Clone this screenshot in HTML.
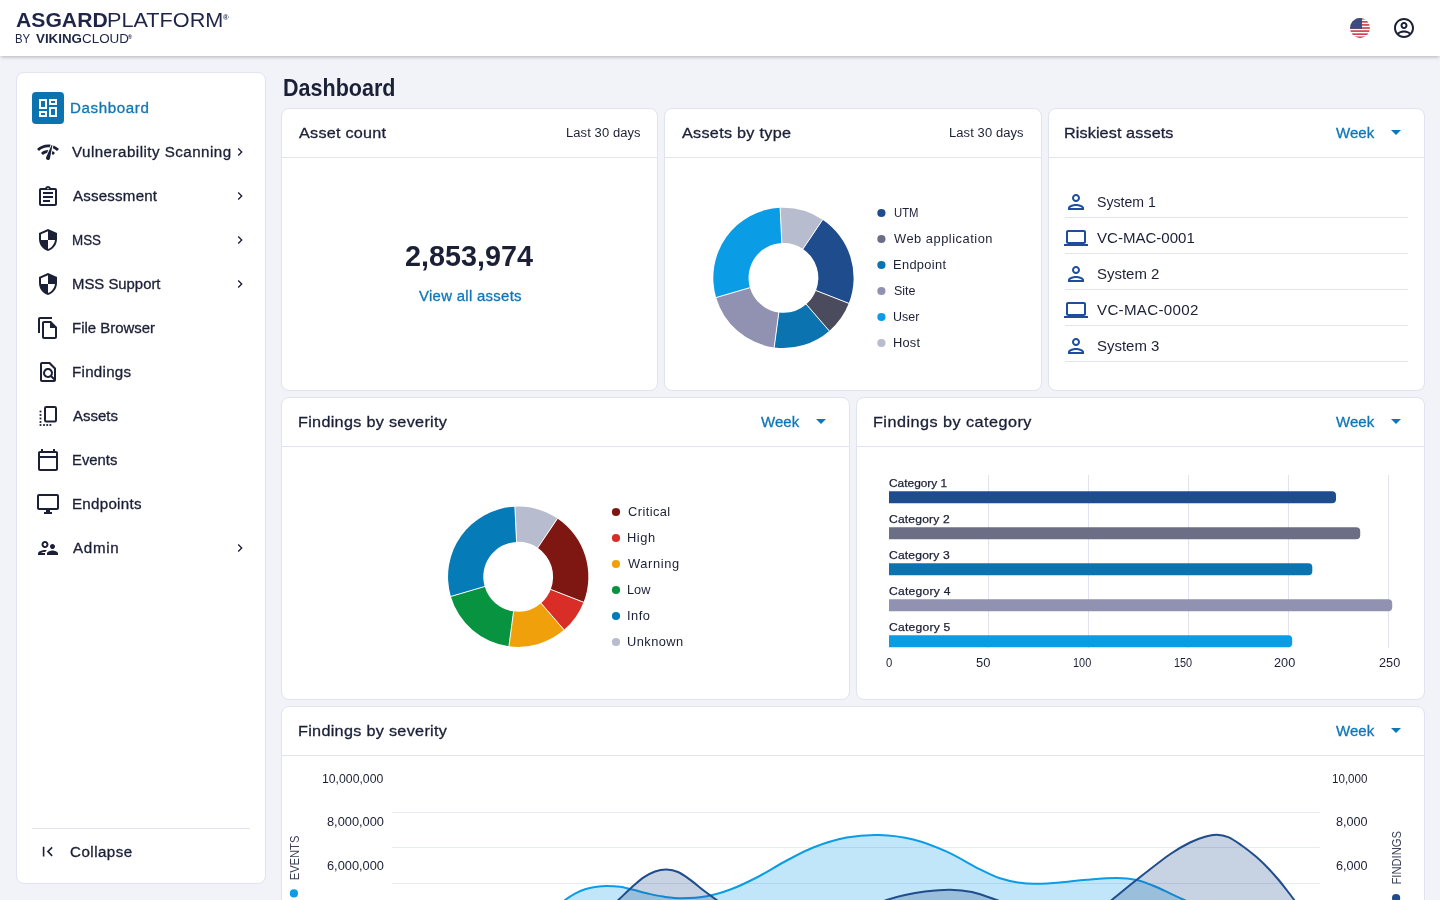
<!DOCTYPE html>
<html lang="en"><head><meta charset="utf-8"><title>Dashboard - Asgard Platform</title>
<style>
*{box-sizing:border-box;margin:0;padding:0}
html,body{width:1440px;height:900px;overflow:hidden}
body{background:#f1f3f8;font-family:"Liberation Sans",sans-serif;color:#1b2037;position:relative}
.ic,.t,.card,.hd,.ln,.abs{position:absolute}
.t{white-space:nowrap;line-height:20px;display:block;transform-origin:0 50%}
header{position:absolute;left:0;top:0;width:1440px;height:56px;background:#fff;box-shadow:0 2px 4px -1px rgba(0,0,0,.2),0 1px 3px rgba(0,0,0,.08)}
.card{background:#fff;border:1px solid #e1e3f0;border-radius:8px}
.hd{left:0;right:0;top:0;height:49px;border-bottom:1px solid #e1e3f0}
.ln{height:1px;background:#e1e3f0}
.sel{background:#0b73b0;border-radius:4px;width:32px;height:32px}
svg{display:block;overflow:visible}
svg text{font-family:"Liberation Sans",sans-serif;fill:#1b2037}

</style></head>
<body>
<nav class="card" style="left:16px;top:72px;width:250px;height:812px"></nav>
<div class="abs sel" style="left:32px;top:92px"></div>
<svg class="ic" style="left:36px;top:96px" width="24" height="24" viewBox="0 0 24 24" fill="#fff"><path d="M19 5v2h-4V5h4M9 5v6H5V5h4m10 8v6h-4v-6h4M9 17v2H5v-2h4M21 3h-8v6h8V3zM11 3H3v10h8V3zm10 8h-8v10h8V11zm-10 4H3v6h8v-6z"/></svg>
<svg class="ic" style="left:36px;top:140px" width="24" height="24" viewBox="0 0 24 24" fill="#1b2037"><path d="M15.9 5c-.17 0-.32.09-.41.23l-.07.15-5.18 11.65c-.16.29-.26.61-.26.96 0 1.11.9 2.01 2.01 2.01.96 0 1.77-.68 1.96-1.59l.01-.03L16.4 5.5c0-.28-.22-.5-.5-.5zM1 9l2 2c2.88-2.88 6.79-4.08 10.53-3.62l1.19-2.68C9.89 3.84 4.74 5.27 1 9zm20 2l2-2c-1.64-1.64-3.55-2.82-5.59-3.57l-.53 2.82c1.5.62 2.9 1.53 4.12 2.75zm-4 4l2-2c-.8-.8-1.7-1.42-2.66-1.89l-.55 2.92c.42.27.83.59 1.21.97zM5 13l2 2c1.13-1.13 2.56-1.79 4.03-2l1.28-2.88c-2.63-.08-5.3.87-7.31 2.88z"/></svg>
<svg class="ic" style="left:36px;top:185px" width="24" height="24" viewBox="0 0 24 24" fill="#1b2037"><path d="M7 15h7v2H7zm0-4h10v2H7zm0-4h10v2H7zm12-4h-4.18C14.4 1.84 13.3 1 12 1c-1.3 0-2.4.84-2.82 2H5c-.14 0-.27.01-.4.04-.39.08-.74.28-1.01.55-.18.18-.33.4-.43.64-.1.23-.16.49-.16.77v14c0 .27.06.54.16.78s.25.45.43.64c.27.27.62.47 1.01.55.13.02.26.03.4.03h14c1.1 0 2-.9 2-2V5c0-1.1-.9-2-2-2zm-7-.25c.41 0 .75.34.75.75s-.34.75-.75.75-.75-.34-.75-.75.34-.75.75-.75zM19 19H5V5h14v14z"/></svg>
<svg class="ic" style="left:36px;top:228px" width="24" height="24" viewBox="0 0 24 24" fill="#1b2037"><path d="M12 1L3 5v6c0 5.55 3.84 10.74 9 12 5.16-1.26 9-6.45 9-12V5l-9-4zm0 10.99h7c-.53 4.12-3.28 7.79-7 8.94V12H5V6.3l7-3.11v8.8z"/></svg>
<svg class="ic" style="left:36px;top:272px" width="24" height="24" viewBox="0 0 24 24" fill="#1b2037"><path d="M12 1L3 5v6c0 5.55 3.84 10.74 9 12 5.16-1.26 9-6.45 9-12V5l-9-4zm0 10.99h7c-.53 4.12-3.28 7.79-7 8.94V12H5V6.3l7-3.11v8.8z"/></svg>
<svg class="ic" style="left:36px;top:316px" width="24" height="24" viewBox="0 0 24 24" fill="#1b2037"><path d="M16 1H4c-1.1 0-2 .9-2 2v14h2V3h12V1zm-1 4H8c-1.1 0-1.99.9-1.99 2L6 21c0 1.1.89 2 1.99 2H19c1.1 0 2-.9 2-2V11l-6-6zM8 21V7h6v5h5v9H8z"/></svg>
<svg class="ic" style="left:36px;top:360px" width="24" height="24" viewBox="0 0 24 24" fill="#1b2037"><path d="M14 2H6c-1.1 0-1.99.9-1.99 2L4 20c0 1.1.89 2 1.99 2H18c1.1 0 2-.9 2-2V8l-6-6zM6 4h7l5 5v8.58l-1.84-1.84c1.28-1.94 1.07-4.57-.64-6.28C14.55 8.49 13.28 8 12 8c-1.28 0-2.55.49-3.53 1.46-1.95 1.95-1.95 5.11 0 7.05.97.97 2.25 1.46 3.53 1.46.96 0 1.92-.28 2.75-.83L17.6 20H6V4zm8.11 11.1c-.56.56-1.31.88-2.11.88s-1.55-.31-2.11-.88c-.56-.56-.88-1.31-.88-2.11s.31-1.55.88-2.11c.56-.57 1.31-.88 2.11-.88s1.55.31 2.11.88c.56.56.88 1.31.88 2.11s-.31 1.55-.88 2.11z"/></svg>
<svg class="ic" style="left:36px;top:404px" width="24" height="24" viewBox="0 0 24 24"><rect x="9" y="3" width="11" height="14.5" rx="1.3" fill="none" stroke="#1b2037" stroke-width="2"/><rect x="3.6" y="6.6" width="1.8" height="1.8" fill="#1b2037"/><rect x="3.6" y="10.1" width="1.8" height="1.8" fill="#1b2037"/><rect x="3.6" y="13.6" width="1.8" height="1.8" fill="#1b2037"/><rect x="3.6" y="17.1" width="1.8" height="1.8" fill="#1b2037"/><rect x="3.6" y="20.1" width="1.8" height="1.8" fill="#1b2037"/><rect x="7.1" y="20.1" width="1.8" height="1.8" fill="#1b2037"/><rect x="10.3" y="20.1" width="1.8" height="1.8" fill="#1b2037"/><rect x="13.5" y="20.1" width="1.8" height="1.8" fill="#1b2037"/></svg>
<svg class="ic" style="left:36px;top:448px" width="24" height="24" viewBox="0 0 24 24" fill="#1b2037"><path d="M20 3h-1V1h-2v2H7V1H5v2H4c-1.1 0-2 .9-2 2v16c0 1.1.9 2 2 2h16c1.1 0 2-.9 2-2V5c0-1.1-.9-2-2-2zm0 18H4V10h16v11zm0-13H4V5h16v3z"/></svg>
<svg class="ic" style="left:36px;top:492px" width="24" height="24" viewBox="0 0 24 24" fill="#1b2037"><path d="M21 2H3c-1.1 0-2 .9-2 2v12c0 1.1.9 2 2 2h7v2H8v2h8v-2h-2v-2h7c1.1 0 2-.9 2-2V4c0-1.1-.9-2-2-2zm0 14H3V4h18v12z"/></svg>
<svg class="ic" style="left:36px;top:536px" width="24" height="24" viewBox="0 0 24 24" fill="#1b2037"><path d="M9 12c1.93 0 3.5-1.57 3.5-3.5S10.93 5 9 5 5.500 6.570 5.500 8.500 7.070 12 9 12zm0-5c.830 0 1.500.670 1.500 1.500S9.830 10 9 10s-1.500-.670-1.500-1.500S8.170 7 9 7zm.050 10H4.770c.990-.500 2.700-1 4.230-1 .110 0 .230.010.340.010.340-.730.930-1.330 1.640-1.810-.730-.130-1.420-.200-1.980-.200-2.340 0-7 1.170-7 3.500V19h7v-1.500c0-.170.020-.340.050-.500zm7.450-2.500c-1.840 0-5.500 1.010-5.500 3V19h11v-1.500c0-1.990-3.660-3-5.500-3zm1.210-1.820c.760-.430 1.290-1.240 1.290-2.180C19 9.120 17.880 8 16.500 8S14 9.120 14 10.500c0 .940.530 1.750 1.290 2.180.360.200.770.320 1.210.320s.850-.120 1.210-.320z"/></svg>
<svg class="ic" style="left:232px;top:144px" width="16" height="16" viewBox="0 0 24 24" fill="#1b2037"><path d="M10 6L8.590 7.410 13.170 12l-4.580 4.590L10 18l6-6z"/></svg>
<svg class="ic" style="left:232px;top:188px" width="16" height="16" viewBox="0 0 24 24" fill="#1b2037"><path d="M10 6L8.590 7.410 13.170 12l-4.580 4.590L10 18l6-6z"/></svg>
<svg class="ic" style="left:232px;top:232px" width="16" height="16" viewBox="0 0 24 24" fill="#1b2037"><path d="M10 6L8.590 7.410 13.170 12l-4.580 4.590L10 18l6-6z"/></svg>
<svg class="ic" style="left:232px;top:276px" width="16" height="16" viewBox="0 0 24 24" fill="#1b2037"><path d="M10 6L8.590 7.410 13.170 12l-4.580 4.590L10 18l6-6z"/></svg>
<svg class="ic" style="left:232px;top:540px" width="16" height="16" viewBox="0 0 24 24" fill="#1b2037"><path d="M10 6L8.590 7.410 13.170 12l-4.580 4.590L10 18l6-6z"/></svg>
<div class="ln" style="left:32px;top:828px;width:218px"></div>
<svg class="ic" style="left:38.2px;top:842.4px" width="19.2" height="19.2" viewBox="0 0 24 24" fill="#1b2037"><path d="M18.410 16.590L13.820 12l4.590-4.590L17 6l-6 6 6 6zM6 6h2v12H6z"/></svg>
<section class="card" style="left:281px;top:108px;width:377px;height:283px"><div class="hd"></div></section>
<section class="card" style="left:664px;top:108px;width:378px;height:283px"><div class="hd"></div></section>
<section class="card" style="left:1048px;top:108px;width:377px;height:283px"><div class="hd"></div></section>
<section class="card" style="left:281px;top:397px;width:569px;height:303px"><div class="hd"></div></section>
<section class="card" style="left:856px;top:397px;width:569px;height:303px"><div class="hd"></div></section>
<section class="card" style="left:281px;top:706px;width:1144px;height:260px"><div class="hd"></div></section>
<svg class="ic" style="left:1384.1px;top:120.2px" width="24" height="24" viewBox="0 0 24 24" fill="#1077b7"><path d="M7 10l5 5 5-5z"/></svg>
<svg class="ic" style="left:809.1px;top:409.2px" width="24" height="24" viewBox="0 0 24 24" fill="#1077b7"><path d="M7 10l5 5 5-5z"/></svg>
<svg class="ic" style="left:1384.1px;top:409.2px" width="24" height="24" viewBox="0 0 24 24" fill="#1077b7"><path d="M7 10l5 5 5-5z"/></svg>
<svg class="ic" style="left:1384.1px;top:718.2px" width="24" height="24" viewBox="0 0 24 24" fill="#1077b7"><path d="M7 10l5 5 5-5z"/></svg>
<div class="ln" style="left:1065px;top:217px;width:343px"></div>
<svg class="ic" style="left:1064px;top:190px" width="24" height="24" viewBox="0 0 24 24" fill="#1f4c9c"><path d="M12 6c1.100 0 2 .900 2 2s-.900 2-2 2-2-.900-2-2 .900-2 2-2m0 10c2.700 0 5.800 1.290 6 2H6c.230-.720 3.310-2 6-2m0-12C9.790 4 8 5.790 8 8s1.790 4 4 4 4-1.790 4-4-1.790-4-4-4zm0 10c-2.670 0-8 1.340-8 4v2h16v-2c0-2.660-5.330-4-8-4z"/></svg>
<div class="ln" style="left:1065px;top:253px;width:343px"></div>
<svg class="ic" style="left:1064px;top:226px" width="24" height="24" viewBox="0 0 24 24" fill="#1f4c9c"><path d="M20 18c1.100 0 2-.900 2-2V6c0-1.100-.900-2-2-2H4c-1.100 0-2 .900-2 2v10c0 1.100.900 2 2 2H0v2h24v-2h-4zM4 6h16v10H4V6z"/></svg>
<div class="ln" style="left:1065px;top:289px;width:343px"></div>
<svg class="ic" style="left:1064px;top:262px" width="24" height="24" viewBox="0 0 24 24" fill="#1f4c9c"><path d="M12 6c1.100 0 2 .900 2 2s-.900 2-2 2-2-.900-2-2 .900-2 2-2m0 10c2.700 0 5.800 1.290 6 2H6c.230-.720 3.310-2 6-2m0-12C9.790 4 8 5.790 8 8s1.790 4 4 4 4-1.790 4-4-1.790-4-4-4zm0 10c-2.670 0-8 1.340-8 4v2h16v-2c0-2.660-5.330-4-8-4z"/></svg>
<div class="ln" style="left:1065px;top:325px;width:343px"></div>
<svg class="ic" style="left:1064px;top:298px" width="24" height="24" viewBox="0 0 24 24" fill="#1f4c9c"><path d="M20 18c1.100 0 2-.900 2-2V6c0-1.100-.900-2-2-2H4c-1.100 0-2 .900-2 2v10c0 1.100.900 2 2 2H0v2h24v-2h-4zM4 6h16v10H4V6z"/></svg>
<div class="ln" style="left:1065px;top:361px;width:343px"></div>
<svg class="ic" style="left:1064px;top:334px" width="24" height="24" viewBox="0 0 24 24" fill="#1f4c9c"><path d="M12 6c1.100 0 2 .900 2 2s-.900 2-2 2-2-.900-2-2 .900-2 2-2m0 10c2.700 0 5.800 1.290 6 2H6c.230-.720 3.310-2 6-2m0-12C9.790 4 8 5.790 8 8s1.790 4 4 4 4-1.790 4-4-1.790-4-4-4zm0 10c-2.670 0-8 1.340-8 4v2h16v-2c0-2.660-5.330-4-8-4z"/></svg>
<svg class="abs" style="left:0;top:0" width="1440" height="900" viewBox="0 0 1440 900">
<path d="M822.68 219.69A70.15 70.15 0 0 1 848.81 303.33L815.97 290.53A34.9 34.9 0 0 0 802.97 248.92Z" fill="#1f4c8c"/><path d="M848.81 303.33A70.15 70.15 0 0 1 829.29 330.95L806.25 304.27A34.9 34.9 0 0 0 815.97 290.53Z" fill="#4a4c5e"/><path d="M829.29 330.95A70.15 70.15 0 0 1 774.17 347.38L778.83 312.44A34.9 34.9 0 0 0 806.25 304.27Z" fill="#0b73b0"/><path d="M774.17 347.38A70.15 70.15 0 0 1 716.12 297.54L749.95 287.65A34.9 34.9 0 0 0 778.83 312.44Z" fill="#9192b2"/><path d="M716.12 297.54A70.15 70.15 0 0 1 780.15 207.78L781.81 242.99A34.9 34.9 0 0 0 749.95 287.65Z" fill="#0a9de6"/><path d="M780.15 207.78A70.15 70.15 0 0 1 822.68 219.69L802.97 248.92A34.9 34.9 0 0 0 781.81 242.99Z" fill="#b8bccf"/><path d="M802.69 249.33L822.96 219.28" stroke="#fff" stroke-width="1"/><path d="M815.50 290.35L849.27 303.51" stroke="#fff" stroke-width="1"/><path d="M805.93 303.89L829.61 331.33" stroke="#fff" stroke-width="1"/><path d="M778.90 311.95L774.11 347.88" stroke="#fff" stroke-width="1"/><path d="M750.43 287.50L715.64 297.68" stroke="#fff" stroke-width="1"/><path d="M781.83 243.49L780.12 207.28" stroke="#fff" stroke-width="1"/>
<path d="M557.43 518.59A70.15 70.15 0 0 1 583.56 602.23L550.72 589.43A34.9 34.9 0 0 0 537.72 547.82Z" fill="#7e1712"/><path d="M583.56 602.23A70.15 70.15 0 0 1 564.04 629.85L541.00 603.17A34.9 34.9 0 0 0 550.72 589.43Z" fill="#d92d27"/><path d="M564.04 629.85A70.15 70.15 0 0 1 508.92 646.28L513.58 611.34A34.9 34.9 0 0 0 541.00 603.17Z" fill="#f0a00a"/><path d="M508.92 646.28A70.15 70.15 0 0 1 450.87 596.44L484.70 586.55A34.9 34.9 0 0 0 513.58 611.34Z" fill="#07933f"/><path d="M450.87 596.44A70.15 70.15 0 0 1 514.90 506.68L516.56 541.89A34.9 34.9 0 0 0 484.70 586.55Z" fill="#057bb8"/><path d="M514.90 506.68A70.15 70.15 0 0 1 557.43 518.59L537.72 547.82A34.9 34.9 0 0 0 516.56 541.89Z" fill="#b8bccf"/><path d="M537.44 548.23L557.71 518.18" stroke="#fff" stroke-width="1"/><path d="M550.25 589.25L584.02 602.41" stroke="#fff" stroke-width="1"/><path d="M540.68 602.79L564.36 630.23" stroke="#fff" stroke-width="1"/><path d="M513.65 610.85L508.86 646.78" stroke="#fff" stroke-width="1"/><path d="M485.18 586.40L450.39 596.58" stroke="#fff" stroke-width="1"/><path d="M516.58 542.39L514.87 506.18" stroke="#fff" stroke-width="1"/>
<circle cx="881.4" cy="213" r="4.1" fill="#1f4c8c"/>
<circle cx="881.4" cy="239" r="4.1" fill="#6b6e84"/>
<circle cx="881.4" cy="265" r="4.1" fill="#0b73b0"/>
<circle cx="881.4" cy="291" r="4.1" fill="#9192b2"/>
<circle cx="881.4" cy="317" r="4.1" fill="#0a9de6"/>
<circle cx="881.4" cy="343" r="4.1" fill="#b8bccf"/>
<circle cx="616" cy="512" r="4.1" fill="#7e1712"/>
<circle cx="616" cy="538" r="4.1" fill="#d92d27"/>
<circle cx="616" cy="564" r="4.1" fill="#f0a00a"/>
<circle cx="616" cy="590" r="4.1" fill="#07933f"/>
<circle cx="616" cy="616" r="4.1" fill="#057bb8"/>
<circle cx="616" cy="642" r="4.1" fill="#b8bccf"/>
<rect x="988" y="475" width="1" height="173" fill="#e1e3f0"/>
<rect x="1088" y="475" width="1" height="173" fill="#e1e3f0"/>
<rect x="1188" y="475" width="1" height="173" fill="#e1e3f0"/>
<rect x="1288" y="475" width="1" height="173" fill="#e1e3f0"/>
<rect x="1388" y="475" width="1" height="173" fill="#e1e3f0"/>
<path d="M889 491.2H1332a4 4 0 0 1 4 4v4a4 4 0 0 1 -4 4H889z" fill="#1f4c8c"/>
<path d="M889 527.2H1356.2a4 4 0 0 1 4 4v4a4 4 0 0 1 -4 4H889z" fill="#6b6e84"/>
<path d="M889 563.2H1308.3a4 4 0 0 1 4 4v4a4 4 0 0 1 -4 4H889z" fill="#0b73b0"/>
<path d="M889 599.2H1388.2a4 4 0 0 1 4 4v4a4 4 0 0 1 -4 4H889z" fill="#9192b2"/>
<path d="M889 635.2H1288.2a4 4 0 0 1 4 4v4a4 4 0 0 1 -4 4H889z" fill="#0a9de6"/>
<rect x="392" y="812" width="928" height="1" fill="#e7e9f3"/>
<rect x="392" y="847" width="928" height="1" fill="#e7e9f3"/>
<rect x="392" y="883" width="928" height="1" fill="#e7e9f3"/>
<clipPath id="cp"><rect x="392" y="760" width="928" height="140"/></clipPath>
<g clip-path="url(#cp)"><path d="M550.0 911.0C552.5 909.2 560.8 902.9 565.0 900.0C569.2 897.1 571.7 895.4 575.0 893.6C578.3 891.8 581.7 890.4 585.0 889.3C588.3 888.2 591.4 887.5 595.0 887.0C598.6 886.5 602.5 886.0 606.7 886.0C610.9 886.0 615.6 886.2 620.0 886.8C624.4 887.4 628.8 888.7 633.3 889.8C637.8 890.9 641.7 892.2 646.7 893.3C651.7 894.4 657.5 895.8 663.3 896.6C669.1 897.4 674.5 898.3 681.7 898.3C688.9 898.2 698.5 897.8 706.7 896.3C714.9 894.8 722.7 892.4 731.0 889.3C739.3 886.2 747.7 882.1 756.7 877.5C765.7 872.9 775.6 866.5 785.0 861.5C794.4 856.5 803.0 851.5 813.3 847.5C823.6 843.5 835.8 839.7 846.7 837.6C857.7 835.5 867.9 834.7 879.0 835.0C890.1 835.3 902.0 836.7 913.3 839.5C924.6 842.3 935.6 846.7 946.7 851.7C957.8 856.7 971.1 864.9 980.0 869.3C988.9 873.7 993.3 876.0 1000.0 878.3C1006.7 880.5 1013.9 881.9 1020.0 882.8C1026.1 883.7 1030.0 883.8 1036.7 883.7C1043.4 883.6 1051.7 883.1 1060.0 882.4C1068.3 881.7 1077.2 880.4 1086.7 879.7C1096.2 879.0 1108.3 878.0 1116.7 878.0C1125.1 878.0 1130.9 878.7 1137.0 880.0C1143.1 881.3 1147.8 883.6 1153.3 885.8C1158.8 888.0 1164.8 890.9 1170.0 893.3C1175.2 895.7 1179.7 897.8 1184.2 900.0C1188.7 902.2 1194.9 905.4 1197.0 906.5L1197 960L550 960Z" fill="#0a9de6" fill-opacity=".25"/><path d="M550.0 911.0C552.5 909.2 560.8 902.9 565.0 900.0C569.2 897.1 571.7 895.4 575.0 893.6C578.3 891.8 581.7 890.4 585.0 889.3C588.3 888.2 591.4 887.5 595.0 887.0C598.6 886.5 602.5 886.0 606.7 886.0C610.9 886.0 615.6 886.2 620.0 886.8C624.4 887.4 628.8 888.7 633.3 889.8C637.8 890.9 641.7 892.2 646.7 893.3C651.7 894.4 657.5 895.8 663.3 896.6C669.1 897.4 674.5 898.3 681.7 898.3C688.9 898.2 698.5 897.8 706.7 896.3C714.9 894.8 722.7 892.4 731.0 889.3C739.3 886.2 747.7 882.1 756.7 877.5C765.7 872.9 775.6 866.5 785.0 861.5C794.4 856.5 803.0 851.5 813.3 847.5C823.6 843.5 835.8 839.7 846.7 837.6C857.7 835.5 867.9 834.7 879.0 835.0C890.1 835.3 902.0 836.7 913.3 839.5C924.6 842.3 935.6 846.7 946.7 851.7C957.8 856.7 971.1 864.9 980.0 869.3C988.9 873.7 993.3 876.0 1000.0 878.3C1006.7 880.5 1013.9 881.9 1020.0 882.8C1026.1 883.7 1030.0 883.8 1036.7 883.7C1043.4 883.6 1051.7 883.1 1060.0 882.4C1068.3 881.7 1077.2 880.4 1086.7 879.7C1096.2 879.0 1108.3 878.0 1116.7 878.0C1125.1 878.0 1130.9 878.7 1137.0 880.0C1143.1 881.3 1147.8 883.6 1153.3 885.8C1158.8 888.0 1164.8 890.9 1170.0 893.3C1175.2 895.7 1179.7 897.8 1184.2 900.0C1188.7 902.2 1194.9 905.4 1197.0 906.5" fill="none" stroke="#0a9de6" stroke-width="2"/>
<path d="M604.0 913.0C606.4 910.8 613.7 904.2 618.3 900.0C622.9 895.8 627.3 891.2 631.5 887.5C635.7 883.8 639.4 880.3 643.3 877.6C647.2 874.9 651.1 872.9 655.0 871.5C658.9 870.1 662.9 869.4 666.7 869.5C670.5 869.6 674.1 870.3 678.0 872.0C681.9 873.7 685.8 876.6 690.0 879.6C694.2 882.6 698.8 886.9 703.3 890.3C707.8 893.7 712.2 896.9 716.7 900.0C721.2 903.1 727.8 907.5 730.0 909.0L730 960L604 960Z" fill="#1f4c8c" fill-opacity=".25"/><path d="M604.0 913.0C606.4 910.8 613.7 904.2 618.3 900.0C622.9 895.8 627.3 891.2 631.5 887.5C635.7 883.8 639.4 880.3 643.3 877.6C647.2 874.9 651.1 872.9 655.0 871.5C658.9 870.1 662.9 869.4 666.7 869.5C670.5 869.6 674.1 870.3 678.0 872.0C681.9 873.7 685.8 876.6 690.0 879.6C694.2 882.6 698.8 886.9 703.3 890.3C707.8 893.7 712.2 896.9 716.7 900.0C721.2 903.1 727.8 907.5 730.0 909.0" fill="none" stroke="#1f4c8c" stroke-width="2"/>
<path d="M870.0 906.5C872.8 905.4 880.9 901.9 886.7 900.0C892.5 898.1 898.6 896.4 905.0 895.0C911.4 893.6 917.5 892.5 925.0 891.6C932.5 890.7 942.2 889.6 950.0 889.7C957.8 889.8 964.2 890.3 972.0 892.0C979.8 893.7 990.4 897.8 996.7 900.0C1003.0 902.2 1007.8 904.6 1010.0 905.5L1010 960L870 960Z" fill="#1f4c8c" fill-opacity=".25"/><path d="M870.0 906.5C872.8 905.4 880.9 901.9 886.7 900.0C892.5 898.1 898.6 896.4 905.0 895.0C911.4 893.6 917.5 892.5 925.0 891.6C932.5 890.7 942.2 889.6 950.0 889.7C957.8 889.8 964.2 890.3 972.0 892.0C979.8 893.7 990.4 897.8 996.7 900.0C1003.0 902.2 1007.8 904.6 1010.0 905.5" fill="none" stroke="#1f4c8c" stroke-width="2"/>
<path d="M1100.0 909.0C1102.0 907.5 1105.6 904.9 1111.7 900.0C1117.8 895.1 1127.0 887.3 1136.7 879.7C1146.4 872.1 1161.1 860.4 1170.0 854.2C1178.9 848.0 1184.2 845.4 1190.0 842.5C1195.8 839.6 1200.5 838.1 1205.0 836.8C1209.5 835.5 1212.8 834.7 1216.7 834.8C1220.6 834.9 1224.1 835.4 1228.3 837.2C1232.5 839.0 1237.2 842.4 1241.7 845.5C1246.2 848.6 1250.8 852.3 1255.0 855.8C1259.2 859.3 1262.8 862.8 1266.7 866.7C1270.6 870.7 1275.0 875.6 1278.3 879.5C1281.6 883.4 1284.0 886.6 1286.7 890.0C1289.4 893.4 1292.0 897.0 1294.2 900.0C1296.4 903.0 1299.0 906.7 1300.0 908.0L1300 960L1100 960Z" fill="#1f4c8c" fill-opacity=".25"/><path d="M1100.0 909.0C1102.0 907.5 1105.6 904.9 1111.7 900.0C1117.8 895.1 1127.0 887.3 1136.7 879.7C1146.4 872.1 1161.1 860.4 1170.0 854.2C1178.9 848.0 1184.2 845.4 1190.0 842.5C1195.8 839.6 1200.5 838.1 1205.0 836.8C1209.5 835.5 1212.8 834.7 1216.7 834.8C1220.6 834.9 1224.1 835.4 1228.3 837.2C1232.5 839.0 1237.2 842.4 1241.7 845.5C1246.2 848.6 1250.8 852.3 1255.0 855.8C1259.2 859.3 1262.8 862.8 1266.7 866.7C1270.6 870.7 1275.0 875.6 1278.3 879.5C1281.6 883.4 1284.0 886.6 1286.7 890.0C1289.4 893.4 1292.0 897.0 1294.2 900.0C1296.4 903.0 1299.0 906.7 1300.0 908.0" fill="none" stroke="#1f4c8c" stroke-width="2"/>
</g>
<text transform="translate(299.2 880.3) rotate(-90)" font-size="12" textLength="44.7" lengthAdjust="spacingAndGlyphs" style="fill:#3d4259">EVENTS</text>
<circle cx="293.9" cy="893.4" r="4.1" fill="#0a9de6"/>
<text transform="translate(1401.1 884.6) rotate(-90)" font-size="12" textLength="53.7" lengthAdjust="spacingAndGlyphs" style="fill:#3d4259">FINDINGS</text>
<circle cx="1396.1" cy="898" r="4.1" fill="#1f4c8c"/>
</svg>
<header></header>
<svg class="abs" style="left:1350px;top:18px" width="20" height="20" viewBox="0 0 20 20"><clipPath id="fc"><circle cx="10" cy="10" r="10"/></clipPath><g clip-path="url(#fc)"><rect width="20" height="20" fill="#fff"/><rect x="0" y="0.000" width="20" height="1.538" fill="#c8323f"/><rect x="0" y="3.077" width="20" height="1.538" fill="#c8323f"/><rect x="0" y="6.154" width="20" height="1.538" fill="#c8323f"/><rect x="0" y="9.231" width="20" height="1.538" fill="#c8323f"/><rect x="0" y="12.308" width="20" height="1.538" fill="#c8323f"/><rect x="0" y="15.385" width="20" height="1.538" fill="#c8323f"/><rect x="0" y="18.462" width="20" height="1.538" fill="#c8323f"/><rect width="12" height="10.8" fill="#24366f"/><rect width="12" height="10.8" fill="url(#st)"/></g><pattern id="st" width="1.5" height="1.5" patternUnits="userSpaceOnUse"><circle cx=".75" cy=".75" r=".36" fill="#fff" fill-opacity=".8"/></pattern></svg>
<svg class="ic" style="left:1392px;top:16px" width="24" height="24" viewBox="0 0 24 24" fill="#1b2037"><path d="M12 2C6.480 2 2 6.480 2 12s4.480 10 10 10 10-4.480 10-10S17.520 2 12 2zM7.070 18.280c.430-.900 3.050-1.780 4.930-1.780s4.510.880 4.930 1.780C15.570 19.360 13.860 20 12 20s-3.570-.640-4.930-1.720zm11.290-1.450c-1.430-1.740-4.900-2.330-6.360-2.330s-4.930.590-6.360 2.330C4.620 15.490 4 13.820 4 12c0-4.410 3.590-8 8-8s8 3.590 8 8c0 1.820-.620 3.490-1.640 4.830zM12 6c-1.940 0-3.500 1.560-3.500 3.500S10.060 13 12 13s3.500-1.560 3.500-3.500S13.940 6 12 6zm0 5c-.830 0-1.500-.670-1.500-1.500S11.170 8 12 8s1.500.670 1.500 1.500S12.830 11 12 11z"/></svg>
<div class="g brand">
<span class="t" style="left:15.90px;top:10px;font-size:20.5px;color:#1e2548;font-weight:700;transform:scaleX(1.0321)">ASGARD</span>
<span class="t" style="left:107.45px;top:10px;font-size:20.5px;color:#1e2548;transform:scaleX(1.0571)">PLATFORM</span>
<span class="t" style="left:223.40px;top:8px;font-size:7px;color:#1e2548;font-weight:700;transform:scaleX(1.0800)">®</span>
<span class="t" style="left:15.40px;top:29px;font-size:13.3px;color:#1e2548;transform:scaleX(0.8563)">BY</span>
<span class="t" style="left:35.65px;top:29px;font-size:13.3px;color:#1e2548;font-weight:700;transform:scaleX(1.0030)">VIKING</span>
<span class="t" style="left:81.65px;top:29px;font-size:13.3px;color:#1e2548;transform:scaleX(1.0087)">CLOUD</span>
<span class="t" style="left:127.90px;top:27px;font-size:5px;color:#1e2548;font-weight:700;transform:scaleX(1.0800)">®</span>
</div>
<div class="g menu">
<span class="t" style="left:69.70px;top:98px;font-size:14px;color:#1077b7;letter-spacing:0.569px;transform:scaleX(1.0800);-webkit-text-stroke:0.3px #1077b7">Dashboard</span>
<span class="t" style="left:72.45px;top:142px;font-size:14px;color:#1b2037;letter-spacing:0.445px;transform:scaleX(1.0800);-webkit-text-stroke:0.3px #1b2037">Vulnerability Scanning</span>
<span class="t" style="left:72.70px;top:186px;font-size:14px;color:#1b2037;letter-spacing:0.175px;transform:scaleX(1.0800);-webkit-text-stroke:0.3px #1b2037">Assessment</span>
<span class="t" style="left:72.05px;top:230px;font-size:14px;color:#1b2037;transform:scaleX(0.9557);-webkit-text-stroke:0.3px #1b2037">MSS</span>
<span class="t" style="left:72.05px;top:274px;font-size:14px;color:#1b2037;transform:scaleX(1.0629);-webkit-text-stroke:0.3px #1b2037">MSS Support</span>
<span class="t" style="left:72.05px;top:318px;font-size:14px;color:#1b2037;transform:scaleX(1.0675);-webkit-text-stroke:0.3px #1b2037">File Browser</span>
<span class="t" style="left:72.05px;top:362px;font-size:14px;color:#1b2037;letter-spacing:0.251px;transform:scaleX(1.0800);-webkit-text-stroke:0.3px #1b2037">Findings</span>
<span class="t" style="left:72.50px;top:406px;font-size:14px;color:#1b2037;transform:scaleX(1.0722);-webkit-text-stroke:0.3px #1b2037">Assets</span>
<span class="t" style="left:72.00px;top:450px;font-size:14px;color:#1b2037;transform:scaleX(1.0581);-webkit-text-stroke:0.3px #1b2037">Events</span>
<span class="t" style="left:72.05px;top:494px;font-size:14px;color:#1b2037;letter-spacing:0.259px;transform:scaleX(1.0800);-webkit-text-stroke:0.3px #1b2037">Endpoints</span>
<span class="t" style="left:72.50px;top:538px;font-size:14px;color:#1b2037;letter-spacing:0.645px;transform:scaleX(1.0800);-webkit-text-stroke:0.3px #1b2037">Admin</span>
<span class="t" style="left:69.90px;top:842px;font-size:14px;color:#1b2037;letter-spacing:0.444px;transform:scaleX(1.0800);-webkit-text-stroke:0.3px #1b2037">Collapse</span>
</div>
<main class="g content">
<span class="t" style="left:282.55px;top:78px;font-size:23.2px;color:#1b2037;font-weight:700;transform:scaleX(0.9284)">Dashboard</span>
<span class="t" style="left:298.60px;top:123px;font-size:15px;color:#1b2037;letter-spacing:0.226px;transform:scaleX(1.0800);-webkit-text-stroke:0.3px #1b2037">Asset count</span>
<span class="t" style="left:681.90px;top:123px;font-size:15px;color:#1b2037;letter-spacing:0.260px;transform:scaleX(1.0800);-webkit-text-stroke:0.3px #1b2037">Assets by type</span>
<span class="t" style="left:1064.40px;top:123px;font-size:15px;color:#1b2037;letter-spacing:0.094px;transform:scaleX(1.0800);-webkit-text-stroke:0.3px #1b2037">Riskiest assets</span>
<span class="t" style="left:297.70px;top:412px;font-size:15px;color:#1b2037;letter-spacing:0.279px;transform:scaleX(1.0800);-webkit-text-stroke:0.3px #1b2037">Findings by severity</span>
<span class="t" style="left:872.65px;top:412px;font-size:15px;color:#1b2037;letter-spacing:0.437px;transform:scaleX(1.0800);-webkit-text-stroke:0.3px #1b2037">Findings by category</span>
<span class="t" style="left:297.70px;top:721px;font-size:15px;color:#1b2037;letter-spacing:0.279px;transform:scaleX(1.0800);-webkit-text-stroke:0.3px #1b2037">Findings by severity</span>
<span class="t" style="left:565.70px;top:123px;font-size:12px;color:#1b2037;letter-spacing:0.093px;transform:scaleX(1.0800)">Last 30 days</span>
<span class="t" style="left:949.25px;top:123px;font-size:12px;color:#1b2037;letter-spacing:0.093px;transform:scaleX(1.0800)">Last 30 days</span>
<span class="t" style="left:1336.45px;top:123px;font-size:14.3px;color:#1077b7;transform:scaleX(1.0511);-webkit-text-stroke:0.3px #1077b7">Week</span>
<span class="t" style="left:761.45px;top:412px;font-size:14.3px;color:#1077b7;transform:scaleX(1.0511);-webkit-text-stroke:0.3px #1077b7">Week</span>
<span class="t" style="left:1336.45px;top:412px;font-size:14.3px;color:#1077b7;transform:scaleX(1.0511);-webkit-text-stroke:0.3px #1077b7">Week</span>
<span class="t" style="left:1336.45px;top:721px;font-size:14.3px;color:#1077b7;transform:scaleX(1.0511);-webkit-text-stroke:0.3px #1077b7">Week</span>
<span class="t" style="left:404.50px;top:246px;font-size:29.56px;color:#1b2037;font-weight:700;transform:scaleX(0.9732)">2,853,974</span>
<span class="t" style="left:418.52px;top:287px;font-size:13.8px;color:#1077b7;letter-spacing:0.283px;transform:scaleX(1.0800);-webkit-text-stroke:0.3px #1077b7">View all assets</span>
<span class="t" style="left:1097.45px;top:192px;font-size:14px;color:#1b2037;transform:scaleX(1.0067)">System 1</span>
<span class="t" style="left:1097.45px;top:228px;font-size:14px;color:#1b2037;transform:scaleX(1.0738)">VC-MAC-0001</span>
<span class="t" style="left:1097.45px;top:264px;font-size:14px;color:#1b2037;transform:scaleX(1.0692)">System 2</span>
<span class="t" style="left:1097.45px;top:300px;font-size:14px;color:#1b2037;letter-spacing:0.286px;transform:scaleX(1.0800)">VC-MAC-0002</span>
<span class="t" style="left:1097.45px;top:336px;font-size:14px;color:#1b2037;transform:scaleX(1.0692)">System 3</span>
<span class="t" style="left:893.55px;top:203px;font-size:11.9px;color:#1b2037;transform:scaleX(0.9528)">UTM</span>
<span class="t" style="left:893.55px;top:229px;font-size:11.9px;color:#1b2037;letter-spacing:0.487px;transform:scaleX(1.0800)">Web application</span>
<span class="t" style="left:893.05px;top:255px;font-size:11.9px;color:#1b2037;letter-spacing:0.310px;transform:scaleX(1.0800)">Endpoint</span>
<span class="t" style="left:893.55px;top:281px;font-size:11.9px;color:#1b2037;transform:scaleX(1.0512)">Site</span>
<span class="t" style="left:893.05px;top:307px;font-size:11.9px;color:#1b2037;transform:scaleX(1.0474)">User</span>
<span class="t" style="left:893.05px;top:333px;font-size:11.9px;color:#1b2037;letter-spacing:0.198px;transform:scaleX(1.0800)">Host</span>
<span class="t" style="left:628.45px;top:502px;font-size:11.9px;color:#1b2037;letter-spacing:0.383px;transform:scaleX(1.0800)">Critical</span>
<span class="t" style="left:627.45px;top:528px;font-size:11.9px;color:#1b2037;letter-spacing:0.532px;transform:scaleX(1.0800)">High</span>
<span class="t" style="left:628.45px;top:554px;font-size:11.9px;color:#1b2037;letter-spacing:0.586px;transform:scaleX(1.0800)">Warning</span>
<span class="t" style="left:627.45px;top:580px;font-size:11.9px;color:#1b2037;transform:scaleX(1.0720)">Low</span>
<span class="t" style="left:627.25px;top:606px;font-size:11.9px;color:#1b2037;letter-spacing:0.438px;transform:scaleX(1.0800)">Info</span>
<span class="t" style="left:627.45px;top:632px;font-size:11.9px;color:#1b2037;letter-spacing:0.402px;transform:scaleX(1.0800)">Unknown</span>
<span class="t" style="left:889.30px;top:473px;font-size:11.2px;color:#1b2037;transform:scaleX(1.0633);-webkit-text-stroke:0.25px #1b2037">Category 1</span>
<span class="t" style="left:889.30px;top:509px;font-size:11.2px;color:#1b2037;letter-spacing:0.174px;transform:scaleX(1.0800);-webkit-text-stroke:0.25px #1b2037">Category 2</span>
<span class="t" style="left:889.30px;top:545px;font-size:11.2px;color:#1b2037;letter-spacing:0.174px;transform:scaleX(1.0800);-webkit-text-stroke:0.25px #1b2037">Category 3</span>
<span class="t" style="left:889.30px;top:581px;font-size:11.2px;color:#1b2037;letter-spacing:0.235px;transform:scaleX(1.0800);-webkit-text-stroke:0.25px #1b2037">Category 4</span>
<span class="t" style="left:889.30px;top:617px;font-size:11.2px;color:#1b2037;letter-spacing:0.230px;transform:scaleX(1.0800);-webkit-text-stroke:0.25px #1b2037">Category 5</span>
<span class="t" style="left:885.60px;top:653px;font-size:12px;color:#1b2037;transform:scaleX(0.9421)">0</span>
<span class="t" style="left:975.70px;top:653px;font-size:12px;color:#1b2037;letter-spacing:0.067px;transform:scaleX(1.0800)">50</span>
<span class="t" style="left:1072.90px;top:653px;font-size:12px;color:#1b2037;transform:scaleX(0.9086)">100</span>
<span class="t" style="left:1173.55px;top:653px;font-size:12px;color:#1b2037;transform:scaleX(0.9061)">150</span>
<span class="t" style="left:1274.30px;top:653px;font-size:12px;color:#1b2037;transform:scaleX(1.0583)">200</span>
<span class="t" style="left:1378.65px;top:653px;font-size:12px;color:#1b2037;transform:scaleX(1.0583)">250</span>
<span class="t" style="left:322.40px;top:769px;font-size:12px;color:#1b2037;transform:scaleX(1.0206)">10,000,000</span>
<span class="t" style="left:326.50px;top:812px;font-size:12px;color:#1b2037;transform:scaleX(1.0676)">8,000,000</span>
<span class="t" style="left:326.50px;top:856px;font-size:12px;color:#1b2037;transform:scaleX(1.0676)">6,000,000</span>
<span class="t" style="left:1331.70px;top:769px;font-size:12px;color:#1b2037;transform:scaleX(0.9659)">10,000</span>
<span class="t" style="left:1335.70px;top:812px;font-size:12px;color:#1b2037;transform:scaleX(1.0522)">8,000</span>
<span class="t" style="left:1335.70px;top:856px;font-size:12px;color:#1b2037;transform:scaleX(1.0522)">6,000</span>
</main>
</body></html>
